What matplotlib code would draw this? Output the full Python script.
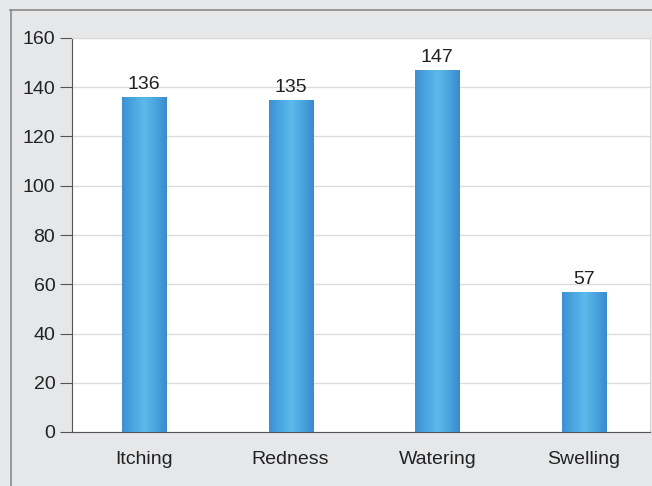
import numpy as np
import matplotlib.pyplot as plt
from matplotlib.colors import LinearSegmentedColormap

plt.rcParams["font.family"] = ["Liberation Sans", "DejaVu Sans"]

# data
symptoms = ["Itching", "Redness", "Watering", "Swelling"]
counts = [136, 135, 147, 57]
yticks = [0, 20, 40, 60, 80, 100, 120, 140, 160]

fig = plt.figure(figsize=(6.52, 4.86), dpi=100)
fig.patch.set_facecolor("#e6e7e9")

# outer frame lines (top / left)
fig.add_artist(plt.Line2D([10 / 652, 1], [1 - 10 / 486] * 2, color="#8a8a8a", lw=1.2))
fig.add_artist(plt.Line2D([11 / 652] * 2, [0, 1 - 10 / 486], color="#8a8a8a", lw=1.2))

ax = fig.add_axes([72 / 652, 1 - 432 / 486, (650 - 72) / 652, (432 - 38) / 486])
ax.set_facecolor("white")

x = np.arange(len(symptoms))
bars = ax.bar(x, counts, width=0.30, color="none", zorder=3)

# cylinder-like shading of the bars
cmap = LinearSegmentedColormap.from_list(
    "cyl", ["#3f8fd2", "#4aa6e0", "#5cbaea", "#4aa4de", "#3b8acd"])
grad = np.linspace(0, 1, 256).reshape(1, -1)
for b in bars:
    x0, w, h = b.get_x(), b.get_width(), b.get_height()
    im = ax.imshow(grad, cmap=cmap, aspect="auto", extent=[x0, x0 + w, 0, h],
                   zorder=3, interpolation="bicubic")
    im.set_clip_path(b)
    ax.text(x0 + w / 2, h + 1.5, str(int(h)), ha="center", va="bottom",
            fontsize=14, color="#222222", zorder=4)

ax.set_xlim(-0.49, 3.45)
ax.set_ylim(0, 160)
ax.set_yticks(yticks)
ax.set_xticks(x)
ax.set_xticklabels(symptoms)
ax.grid(axis="y", color="#dcdcdc", lw=1, zorder=0)

ax.spines["left"].set_color("#555555")
ax.spines["bottom"].set_color("#555555")
ax.spines["top"].set_color("#d8d8d8")
ax.spines["right"].set_color("#d8d8d8")
ax.tick_params(axis="y", length=9, color="#555555", labelsize=14,
               labelcolor="#222222", pad=3)
ax.tick_params(axis="x", length=0, labelsize=14, labelcolor="#222222", pad=14)

fig.savefig("out.png", dpi=100, facecolor=fig.get_facecolor())
